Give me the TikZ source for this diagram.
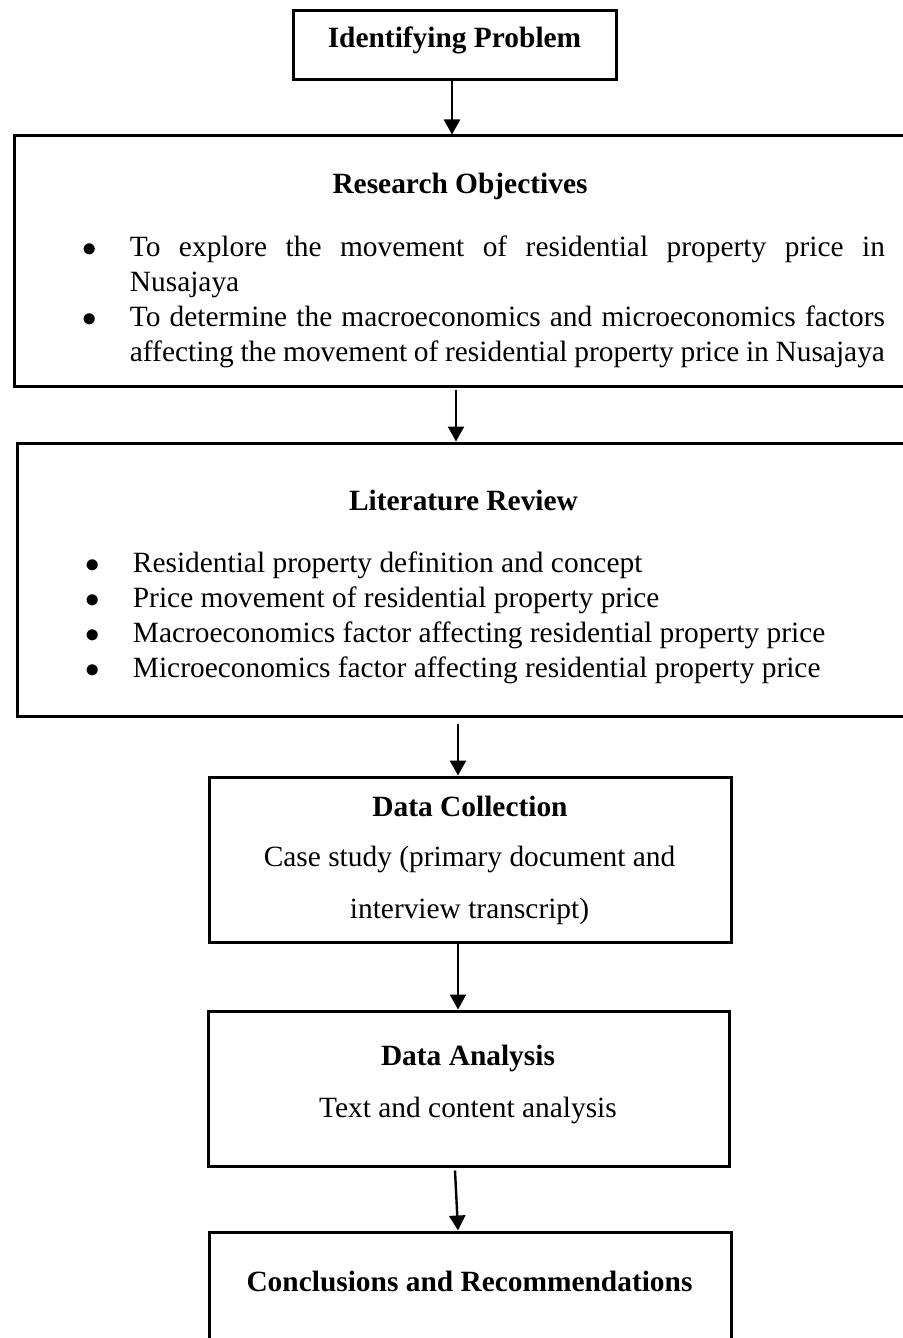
\documentclass[tikz,border=0pt]{standalone}
\usepackage{fontspec}
\setmainfont{Liberation Serif}
\usepackage{tikz}
\usetikzlibrary{arrows.meta}

\newcommand{\flowfont}{\fontsize{14.7pt}{17.6pt}\selectfont}
\newcommand{\bitem}{\par\noindent\hangindent=23.5pt\hangafter=1\strut\makebox[23.5pt][l]{$\bullet$}}

\tikzset{
    box/.style={draw, line width=1.5pt, inner sep=0pt},
    title/.style={font=\flowfont\bfseries, anchor=base, inner sep=0pt},
    plain/.style={font=\flowfont, anchor=base, inner sep=0pt},
    bullets/.style={font=\flowfont, anchor=north west, inner sep=0pt, text width=401pt, align=justify},
    flow/.style={line width=1.2pt, -{Triangle[length=7.5pt,width=8pt]}}
}

\begin{document}
\begin{tikzpicture}[x=0.5pt, y=-0.5pt]
        \useasboundingbox (0,0) rectangle (902,1338);

        % Draw the boxes
        \node[box, minimum width=161.5pt, minimum height=34.5pt] (idprob) at (454.5,45.5) {};
        \node[box, minimum width=449pt, minimum height=125pt] (objectives) at (463,261) {};
        \node[box, minimum width=447.5pt, minimum height=136.5pt] (review) at (464.5,579.5) {};
        \node[box, minimum width=261pt, minimum height=82.5pt] (collection) at (470,859.5) {};
        \node[box, minimum width=260.5pt, minimum height=77.5pt] (analysis) at (468.5,1088.5) {};
        \node[box, minimum width=261pt, minimum height=58pt] (conclusion) at (470,1290) {};

        % Write the titles
        \node[title] (idprobT) at (454.5,48) {Identifying Problem};
        \node[title] (objectivesT) at (460,193) {Research Objectives};
        \node[title] (reviewT) at (463.5,510) {Literature Review};
        \node[title] (collectionT) at (470,816) {Data Collection};
        \node[title] (analysisT) at (468,1065) {Data Analysis};
        \node[title] (conclusionT) at (469.5,1291) {Conclusions and Recommendations};

        % Write the bullet lists
        \node[bullets] (objectivesL) at (82.5,220.4) {\tolerance=10000
            \bitem To explore the movement of residential property price in\linebreak Nusajaya
            \bitem To determine the macroeconomics and microeconomics factors\linebreak affecting the movement of residential property price in Nusajaya\par};
        \node[bullets] (reviewL) at (85.5,536.4) {
            \bitem Residential property definition and concept
            \bitem Price movement of residential property price
            \bitem Macroeconomics factor affecting residential property price
            \bitem Microeconomics factor affecting residential property price\par};

        % Write the other lines
        \node[plain] (collectionA) at (469.5,866) {Case study (primary document and};
        \node[plain] (collectionB) at (469.5,918) {interview transcript)};
        \node[plain] (analysisA) at (468,1117) {Text and content analysis};

        % Draw the arrows between the boxes
        \draw[flow] ([xshift=-1.25pt]idprob.south) -- ([xshift=-5.5pt]objectives.north);
        \draw[flow] ([xshift=-3.5pt, yshift=-1pt]objectives.south) -- ([xshift=-4.25pt]review.north);
        \draw[flow] ([xshift=-3.25pt, yshift=-3pt]review.south) -- ([xshift=-6pt]collection.north);
        \draw[flow] ([xshift=-6pt]collection.south) -- ([xshift=-5.25pt]analysis.north);
        \draw[flow] ([xshift=-6.75pt, yshift=-1.5pt]analysis.south) -- ([xshift=-6pt]conclusion.north);
    \end{tikzpicture}
\end{document}
